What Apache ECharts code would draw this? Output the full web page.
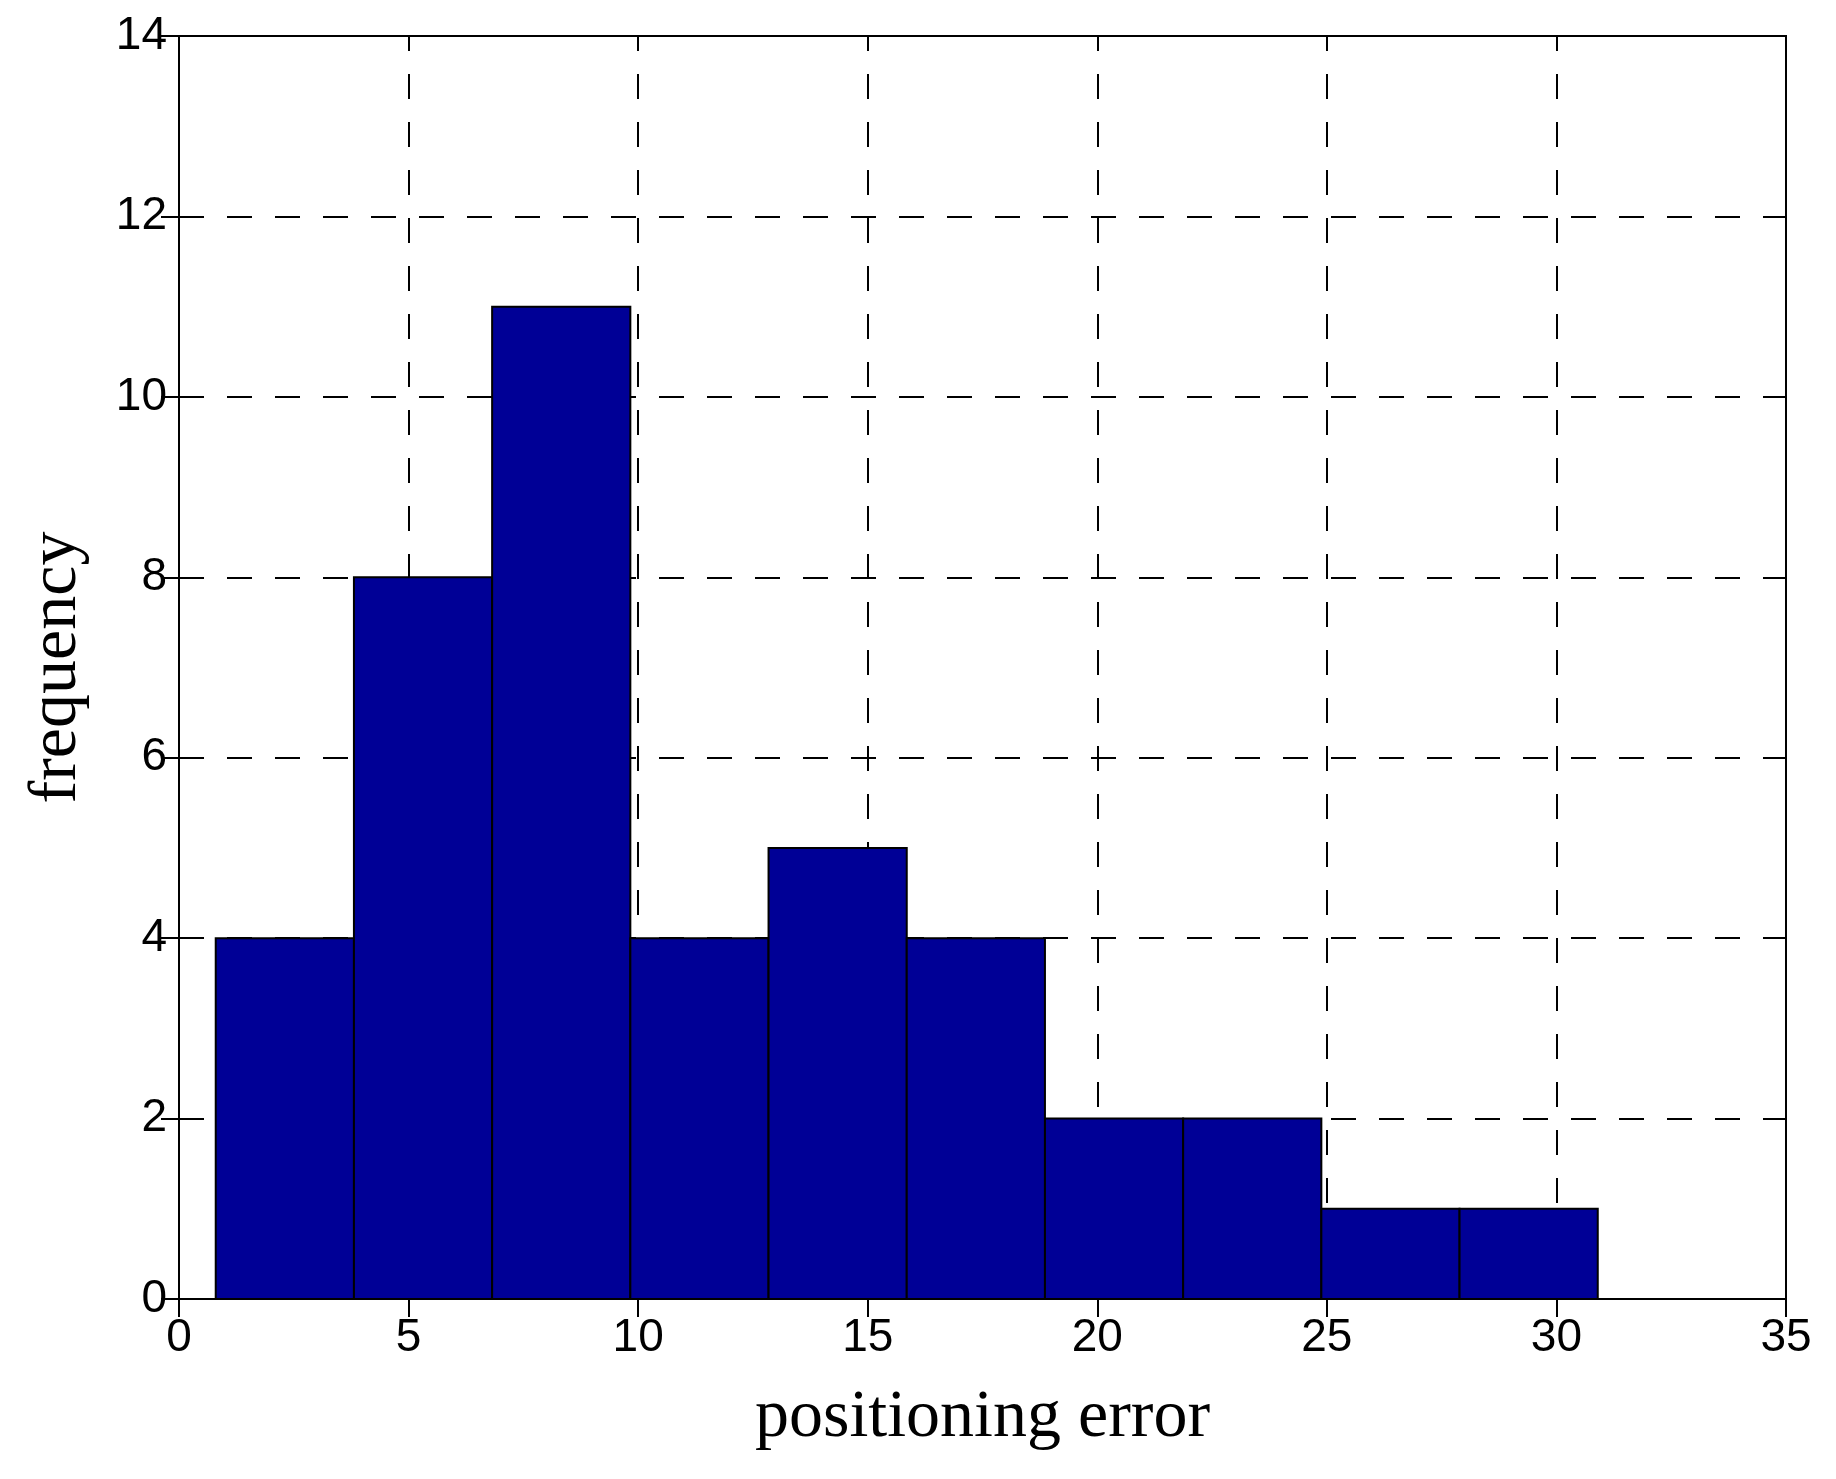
<!DOCTYPE html>
<html>
<head>
<meta charset="utf-8">
<script src="https://cdn.jsdelivr.net/npm/echarts@6/dist/echarts.min.js"></script>
<style>
  html, body { margin: 0; padding: 0; background: #fff; }
  #main { width: 1836px; height: 1479px; }
</style>
</head>
<body>
<div id="main"></div>
<script>
// histogram bins (left/right edges) and counts
var binLeft  = [0.8, 3.81, 6.82, 9.83, 12.84, 15.85, 18.86, 21.87, 24.88, 27.89];
var binRight = [3.81, 6.82, 9.83, 12.84, 15.85, 18.86, 21.87, 24.88, 27.89, 30.9];
var counts   = [4, 8, 11, 4, 5, 4, 2, 2, 1, 1];

var xTicks = [0, 5, 10, 15, 20, 25, 30, 35];
var yTicks = [0, 2, 4, 6, 8, 10, 12, 14];

var myChart = echarts.init(document.getElementById('main'));

var histData = [];
for (var i = 0; i < counts.length; i++) {
    histData.push([binLeft[i], binRight[i], counts[i]]);
}

var tickFont = { fontFamily: 'Liberation Sans', fontSize: 46, color: '#000' };
var nameFont = { fontFamily: 'Liberation Serif', fontSize: 68, color: '#000', lineHeight: 68 };

function renderBar(params, api) {
    var p0 = api.coord([api.value(0), 0]);
    var p1 = api.coord([api.value(1), api.value(2)]);
    return {
        type: 'rect',
        shape: { x: p0[0], y: p1[1], width: p1[0] - p0[0], height: p0[1] - p1[1] },
        style: { fill: '#000096', stroke: '#000', lineWidth: 2 }
    };
}

var option = {
    backgroundColor: '#fff',
    animation: false,
    grid: {
        left: 179,
        top: 36,
        right: 50,
        bottom: 180,
        show: true,
        borderColor: '#000',
        borderWidth: 2,
        backgroundColor: 'transparent'
    },
    xAxis: [{
        type: 'value',
        min: xTicks[0],
        max: xTicks[xTicks.length - 1],
        interval: 5,
        name: 'positioning error',
        nameLocation: 'middle',
        nameGap: 85,
        nameTextStyle: nameFont,
        axisLine: { show: true, lineStyle: { color: '#000', width: 2 } },
        axisTick: { show: true, inside: true, length: 18, lineStyle: { color: '#000', width: 2 } },
        axisLabel: Object.assign({ margin: 16 }, tickFont),
        splitLine: {
            show: true,
            lineStyle: { color: '#000', width: 2, type: [25, 23], dashOffset: 10 }
        }
    }, {
        type: 'value',
        position: 'top',
        min: xTicks[0],
        max: xTicks[xTicks.length - 1],
        interval: 5,
        axisLine: { show: true, lineStyle: { color: '#000', width: 2 } },
        axisTick: { show: true, inside: true, length: 18, lineStyle: { color: '#000', width: 2 } },
        axisLabel: { show: false },
        splitLine: { show: false }
    }],
    yAxis: [{
        type: 'value',
        min: yTicks[0],
        max: yTicks[yTicks.length - 1],
        interval: 2,
        name: 'frequency',
        nameLocation: 'middle',
        nameGap: 88,
        nameTextStyle: nameFont,
        axisLine: { show: true, lineStyle: { color: '#000', width: 2 } },
        axisTick: { show: true, inside: true, length: 18, lineStyle: { color: '#000', width: 2 } },
        axisLabel: Object.assign({ margin: 12 }, tickFont),
        splitLine: {
            show: true,
            lineStyle: { color: '#000', width: 2, type: [25, 23] }
        }
    }, {
        type: 'value',
        position: 'right',
        min: yTicks[0],
        max: yTicks[yTicks.length - 1],
        interval: 2,
        axisLine: { show: true, lineStyle: { color: '#000', width: 2 } },
        axisTick: { show: true, inside: true, length: 18, lineStyle: { color: '#000', width: 2 } },
        axisLabel: { show: false },
        splitLine: { show: false }
    }],
    series: [{
        type: 'custom',
        xAxisIndex: 0,
        yAxisIndex: 0,
        renderItem: renderBar,
        encode: { x: [0, 1], y: 2 },
        data: histData,
        z: 5
    }]
};

myChart.setOption(option);
</script>
</body>
</html>
